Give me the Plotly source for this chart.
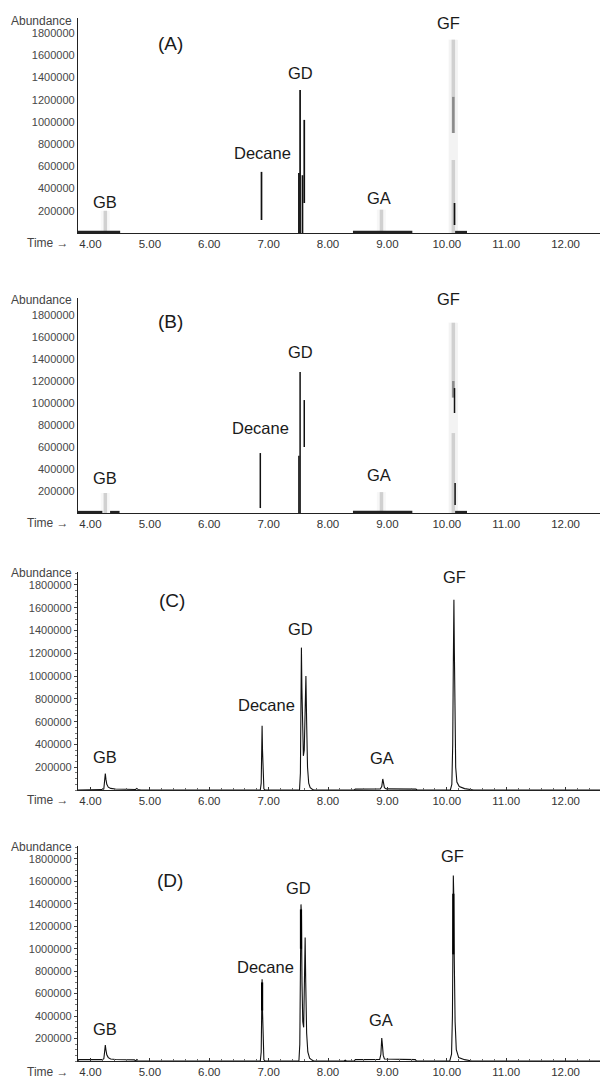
import plotly.graph_objects as go

# ---------------- data ----------------
time_ticks = [4, 5, 6, 7, 8, 9, 10, 11, 12]
time_tick_text = ["4.00", "5.00", "6.00", "7.00", "8.00", "9.00", "10.00", "11.00", "12.00"]
abund_ticks = [200000, 400000, 600000, 800000, 1000000, 1200000, 1400000, 1600000, 1800000]
abund_tick_text = ["200000", "400000", "600000", "800000", "1000000", "1200000", "1400000", "1600000", "1800000"]
panel_names = ["(A)", "(B)", "(C)", "(D)"]
peak_names = ["GB", "Decane", "GD", "GA", "GF"]

# Panel A (degraded scan): visible vertical fragments [time, low, high]
A_black_t = [6.88, 7.53, 7.51, 7.60, 7.57, 10.13]
A_black_lo = [117000, 0, 0, 270000, 0, 72000]
A_black_hi = [550000, 1288000, 540000, 1018000, 520000, 270000]
A_dark_t = [10.11]
A_dark_lo = [900000]
A_dark_hi = [1225000]
A_grey_t = [4.25, 8.90, 10.11, 10.11]
A_grey_lo = [0, 0, 0, 900000]
A_grey_hi = [200000, 210000, 657000, 1740000]
A_base_start = [3.79, 8.42, 10.14]
A_base_end = [4.50, 9.42, 10.34]

# Panel B (degraded scan)
B_black_t = [6.86, 7.53, 7.51, 7.60, 10.13, 10.14]
B_black_lo = [45000, 0, 0, 600000, 909000, 73000]
B_black_hi = [545000, 1282000, 520000, 1027000, 1136000, 273000]
B_dark_t = [10.11]
B_dark_lo = [1050000]
B_dark_hi = [1200000]
B_grey_t = [4.25, 8.90, 10.11, 10.11]
B_grey_lo = [0, 0, 0, 1050000]
B_grey_hi = [182000, 190000, 727000, 1730000]
B_base_start = [3.79, 4.33, 8.42, 10.14]
B_base_end = [4.20, 4.49, 9.42, 10.34]

# Panel C chromatogram
C_time = [3.79, 4.20, 4.225, 4.24, 4.25, 4.26, 4.275, 4.30, 4.34, 4.42, 4.55, 4.70, 4.76, 4.78, 4.80, 4.85,
          6.86, 6.875, 6.883, 6.89, 6.897, 6.905, 6.92, 6.94,
          7.52, 7.535, 7.545, 7.552, 7.56, 7.57, 7.585, 7.60, 7.615, 7.628, 7.64, 7.655, 7.675, 7.70, 7.74, 7.77,
          8.44, 8.46, 8.88, 8.905, 8.922, 8.935, 8.95, 8.98, 9.48, 9.50,
          10.06, 10.085, 10.10, 10.11, 10.12, 10.128, 10.138, 10.15, 10.17, 10.21, 10.30, 10.40, 10.45, 12.58]
C_abund = [0, 3000, 10000, 80000, 145000, 95000, 50000, 25000, 14000, 9000, 6000, 4000, 5000, 14000, 4000, 0,
           0, 60000, 300000, 564000, 350000, 100000, 10000, 0,
           0, 150000, 700000, 1250000, 900000, 500000, 300000, 350000, 650000, 1000000, 600000, 200000, 60000, 20000, 5000, 0,
           0, 8000, 9000, 30000, 97000, 60000, 20000, 10000, 8000, 0,
           0, 50000, 400000, 1100000, 1670000, 1200000, 600000, 200000, 70000, 30000, 12000, 5000, 0, 0]

# Panel D chromatogram
D_time = [3.79, 3.80, 4.20, 4.225, 4.24, 4.25, 4.26, 4.275, 4.30, 4.34, 4.42, 4.55, 4.74, 4.76, 4.78, 4.80,
          6.86, 6.875, 6.883, 6.89, 6.897, 6.905, 6.92, 6.94,
          7.51, 7.525, 7.537, 7.545, 7.553, 7.562, 7.575, 7.59, 7.603, 7.615, 7.625, 7.64, 7.66, 7.69, 7.73, 7.76,
          8.27, 8.29, 8.31,
          8.44, 8.46, 8.87, 8.89, 8.905, 8.915, 8.93, 8.95, 9.47, 9.49,
          10.05, 10.08, 10.095, 10.103, 10.11, 10.117, 10.125, 10.14, 10.16, 10.20, 10.30, 10.38, 10.42, 12.58]
D_abund = [0, 12000, 12000, 20000, 90000, 142000, 100000, 55000, 30000, 18000, 13000, 11000, 10000, 0, 12000, 0,
           0, 80000, 450000, 729000, 450000, 120000, 10000, 0,
           0, 150000, 800000, 1395000, 1300000, 700000, 350000, 300000, 600000, 1100000, 700000, 250000, 80000, 25000, 8000, 0,
           0, 8000, 0,
           0, 12000, 14000, 60000, 204000, 150000, 50000, 18000, 12000, 0,
           0, 60000, 400000, 1000000, 1653000, 1490000, 950000, 350000, 100000, 30000, 12000, 5000, 0, 0]
D_thick_t = [6.89, 7.545, 10.11]
D_thick_lo = [450000, 1000000, 950000]
D_thick_hi = [700000, 1350000, 1490000]

# ---------------- layout helpers ----------------
W, H = 602, 1079
XL, XR = 78, 600
panels_px = [(18, 233), (298, 513), (572, 790), (846, 1061)]  # (top, bottom) pixel
y_tops = [1935000, 1955000, 1914000, 1915000]
XRANGE = [3.79, 12.58]


def vsegs(ts, los, his):
    xs, ys = [], []
    for t, lo, hi in zip(ts, los, his):
        xs += [t, t, None]
        ys += [lo, hi, None]
    return xs, ys


def hsegs(starts, ends, level):
    xs, ys = [], []
    for a, b in zip(starts, ends):
        xs += [a, b, None]
        ys += [level, level, None]
    return xs, ys


fig = go.Figure()


def add(xs, ys, i, color, width):
    fig.add_trace(go.Scatter(x=xs, y=ys, mode="lines", line=dict(color=color, width=width),
                             xaxis="x" if i == 1 else f"x{i}", yaxis="y" if i == 1 else f"y{i}",
                             showlegend=False, hoverinfo="skip"))


# Panel A
add(*vsegs(A_grey_t, [0] * len(A_grey_t), [1740000 if t > 10 else h for t, h in zip(A_grey_t, A_grey_hi)]), 1, "rgba(240,240,240,0.55)", 9)
add(*vsegs(A_grey_t, A_grey_lo, A_grey_hi), 1, "#d0d0d0", 3.5)
add(*vsegs(A_dark_t, A_dark_lo, A_dark_hi), 1, "#8a8a8a", 2.5)
add(*vsegs(A_black_t, A_black_lo, A_black_hi), 1, "#111111", 1.7)
add(*hsegs(A_base_start, A_base_end, 8000), 1, "#222222", 2.5)

# Panel B
add(*vsegs(B_grey_t, [0] * len(B_grey_t), [1730000 if t > 10 else h for t, h in zip(B_grey_t, B_grey_hi)]), 2, "rgba(240,240,240,0.55)", 9)
add(*vsegs(B_grey_t, B_grey_lo, B_grey_hi), 2, "#d0d0d0", 3.5)
add(*vsegs(B_dark_t, B_dark_lo, B_dark_hi), 2, "#8a8a8a", 2.5)
add(*vsegs(B_black_t, B_black_lo, B_black_hi), 2, "#111111", 1.5)
add(*hsegs(B_base_start, B_base_end, 8000), 2, "#222222", 2.5)

# Panel C
add(C_time, C_abund, 3, "#111111", 1.1)

# Panel D
add(D_time, D_abund, 4, "#111111", 1.1)
add(*vsegs(D_thick_t, D_thick_lo, D_thick_hi), 4, "#000000", 2.2)

layout = dict(width=W, height=H, margin=dict(l=0, r=0, t=0, b=0),
              paper_bgcolor="white", plot_bgcolor="white", showlegend=False)

tick_font = dict(family="Liberation Sans, Arial", size=11, color="#474747")
for i, ((top, bot), ytop) in enumerate(zip(panels_px, y_tops), start=1):
    sx = "" if i == 1 else str(i)
    fine = i >= 3
    layout[f"xaxis{sx}"] = dict(
        domain=[XL / W, XR / W], range=XRANGE, anchor=f"y{sx}",
        showgrid=False, zeroline=False, showline=True, linecolor="#222222", linewidth=1.3,
        tickvals=time_ticks, ticktext=time_tick_text,
        tickfont=dict(family="Liberation Sans, Arial", size=11.5, color="#333333"),
        ticks="inside" if fine else "", ticklen=3, tickcolor="#333333", tickwidth=1,
        minor=dict(dtick=0.2, ticks="inside" if fine else "", ticklen=2, tickcolor="#666666"),
        automargin=False, fixedrange=True)
    layout[f"yaxis{sx}"] = dict(
        domain=[1 - bot / H, 1 - top / H], range=[0, ytop], anchor=f"x{sx}",
        showgrid=False, zeroline=False, showline=True, linecolor="#222222", linewidth=1.3,
        tickvals=abund_ticks, ticktext=abund_tick_text, tickfont=tick_font,
        ticks="outside" if fine else "", ticklen=3, tickcolor="#444444",
        minor=dict(dtick=50000, ticks="outside" if fine else "", ticklen=2, tickcolor="#777777"),
        automargin=False, fixedrange=True)

fig.update_layout(**layout)

# text labels (pixel positions)
label_pos = [
    [(170, 43), (105, 202), (262, 153), (300, 73), (379, 198), (449, 23)],
    [(170, 322), (105, 478), (260, 428), (300, 352), (379, 475), (449, 299)],
    [(172, 600), (105, 757), (266, 705), (300, 629), (382, 758), (454, 577)],
    [(170, 880), (105, 1029), (265, 967), (298, 888), (381, 1020), (452, 856)],
]
abund_label_y = [21, 300, 573, 847]
time_label_y = [243, 523, 800, 1072]

anns = []
for p in range(4):
    texts = [panel_names[p]] + peak_names
    for k, (txt, (px, py)) in enumerate(zip(texts, label_pos[p])):
        anns.append(dict(text=txt, x=px / W, y=1 - py / H, xref="paper", yref="paper",
                         xanchor="center", yanchor="middle", showarrow=False,
                         font=dict(family="Liberation Sans, Arial", size=19 if k == 0 else 16.5, color="#1a1a1a")))
    anns.append(dict(text="Abundance", x=74 / W, y=1 - abund_label_y[p] / H, xref="paper", yref="paper",
                     xanchor="right", yanchor="middle", showarrow=False,
                     font=dict(family="Liberation Sans, Arial", size=12, color="#444444")))
    anns.append(dict(text="Time \u2192", x=71 / W, y=1 - time_label_y[p] / H, xref="paper", yref="paper",
                     xanchor="right", yanchor="middle", showarrow=False,
                     font=dict(family="Liberation Sans, Arial", size=12, color="#444444")))

fig.update_layout(annotations=anns)
fig.write_html("out.html", config={"displayModeBar": False},
               post_script="document.body.style.margin='0';document.body.style.overflow='hidden';")
